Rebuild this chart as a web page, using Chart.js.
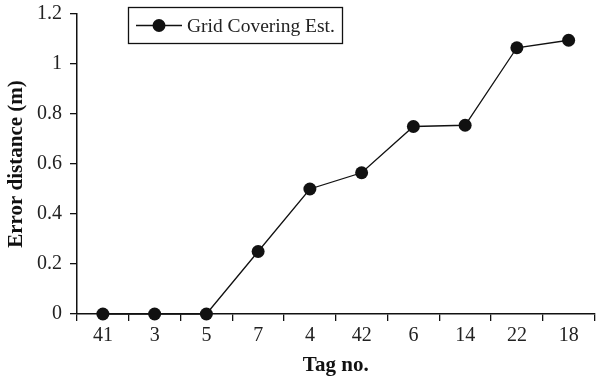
<!DOCTYPE html>
<html>
<head>
<meta charset="utf-8">
<script src="https://cdn.jsdelivr.net/npm/chart.js@4/dist/chart.umd.min.js"></script>
<style>
html,body{margin:0;padding:0;background:#fff;}
#wrap{width:601px;height:378px;}
</style>
</head>
<body>
<div id="wrap"><canvas id="c" width="601" height="378"></canvas></div>
<script>
const tagLabels = ["41","3","5","7","4","42","6","14","22","18"];
const errorDistance = [0, 0, 0, 0.25, 0.5, 0.565, 0.75, 0.755, 1.065, 1.095];
const yTicks = [0, 0.2, 0.4, 0.6, 0.8, 1, 1.2];
const seriesName = "Grid Covering Est.";

const FONT = "'Liberation Serif', 'Times New Roman', serif";

const boxLegend = {
  id: 'boxLegend',
  afterDraw(chart) {
    const ctx = chart.ctx;
    const x0 = 128, y0 = 7, w = 214, h = 36;
    ctx.save();
    ctx.strokeStyle = '#111';
    ctx.lineWidth = 1.3;
    ctx.strokeRect(x0 + 0.5, y0 + 0.5, w, h);
    const cy = y0 + h / 2 + 0.5;
    ctx.beginPath();
    ctx.moveTo(136, cy);
    ctx.lineTo(182, cy);
    ctx.lineWidth = 1.3;
    ctx.stroke();
    ctx.beginPath();
    ctx.arc(159, cy, 6.5, 0, Math.PI * 2);
    ctx.fillStyle = '#111';
    ctx.fill();
    ctx.font = '19.5px ' + FONT;
    ctx.fillStyle = '#222';
    ctx.textBaseline = 'middle';
    ctx.fillText(chart.data.datasets[0].label, 187, cy + 1);
    ctx.restore();
  }
};

new Chart(document.getElementById('c'), {
  type: 'line',
  data: {
    labels: tagLabels,
    datasets: [{
      label: seriesName,
      data: errorDistance,
      borderColor: '#111',
      borderWidth: 1.3,
      pointRadius: 6.5,
      pointBackgroundColor: '#111',
      pointBorderColor: '#111',
      pointBorderWidth: 0,
      tension: 0,
      fill: false,
      clip: false
    }]
  },
  options: {
    responsive: false,
    animation: false,
    devicePixelRatio: 1,
    layout: { padding: { top: 14, right: 0, left: 0, bottom: 0 } },
    plugins: { legend: { display: false }, tooltip: { enabled: false } },
    scales: {
      x: {
        type: 'category',
        offset: true,
        grid: { display: true, offset: true, drawOnChartArea: false, drawTicks: true, tickLength: 7, color: '#111', lineWidth: 1.3 },
        border: { display: true, color: '#111', width: 1.5 },
        ticks: { color: '#222', font: { family: FONT, size: 20 }, padding: 3, maxRotation: 0, autoSkip: false },
        title: { display: true, text: 'Tag no.', color: '#111', font: { family: FONT, size: 21, weight: 'bold' }, padding: { top: 2, bottom: 0 } },
        afterFit(scale) { scale.height = 64; }
      },
      y: {
        min: 0,
        max: 1.2,
        afterBuildTicks(scale) { scale.ticks = yTicks.map(v => ({ value: v })); },
        grid: { display: true, drawOnChartArea: false, drawTicks: true, tickLength: 7, color: '#111', lineWidth: 1.3 },
        border: { display: true, color: '#111', width: 1.5 },
        ticks: { color: '#222', font: { family: FONT, size: 20, lineHeight: 0.8 }, padding: 8, callback: v => String(v) },
        title: { display: true, text: 'Error distance (m)', color: '#111', font: { family: FONT, size: 21, weight: 'bold' }, padding: { top: 4, bottom: 4 } },
        afterFit(scale) { scale.width = 77; scale.paddingTop = 0; scale.paddingBottom = 0; }
      }
    }
  },
  plugins: [boxLegend]
});
</script>
</body>
</html>
